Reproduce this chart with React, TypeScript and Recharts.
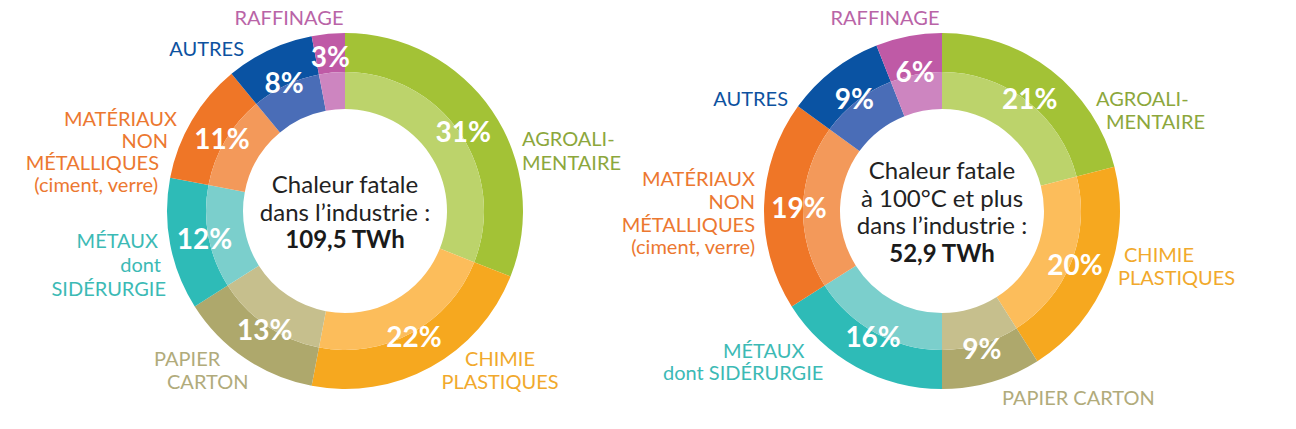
import React from "react";
import { PieChart, Pie, Cell, Label } from "recharts";

// sectors, clockwise from 12 o'clock
const sectors = [
  "Agroalimentaire",
  "Chimie plastiques",
  "Papier carton",
  "Métaux dont sidérurgie",
  "Matériaux non métalliques",
  "Autres",
  "Raffinage",
];
const allHeat = [31, 22, 13, 12, 11, 8, 3]; // % of 109,5 TWh
const hotHeat = [21, 20, 9, 16, 19, 9, 6]; // % of 52,9 TWh (>= 100°C)

const leftTitle = ["Chaleur fatale", "dans l’industrie :"];
const leftTotal = "109,5 TWh";
const rightTitle = ["Chaleur fatale", "à 100°C et plus", "dans l’industrie :"];
const rightTotal = "52,9 TWh";

const leftNames = [
  ["AGROALI-", "MENTAIRE"],
  ["CHIMIE", "PLASTIQUES"],
  ["PAPIER", "CARTON"],
  ["MÉTAUX", "dont", "SIDÉRURGIE"],
  ["MATÉRIAUX", "NON", "MÉTALLIQUES", "(ciment, verre)"],
  ["AUTRES"],
  ["RAFFINAGE"],
];
const rightNames = [
  ["AGROALI-", "MENTAIRE"],
  ["CHIMIE", "PLASTIQUES"],
  ["PAPIER CARTON"],
  ["MÉTAUX", "dont SIDÉRURGIE"],
  ["MATÉRIAUX", "NON", "MÉTALLIQUES", "(ciment, verre)"],
  ["AUTRES"],
  ["RAFFINAGE"],
];

const dark = ["#a3c236", "#f6a81f", "#aea86c", "#2ebbb7", "#ef7627", "#0a53a3", "#bf5aa6"];
const light = ["#bcd36b", "#fcbd5b", "#c6bf8d", "#7bcfcc", "#f3995a", "#4a6db7", "#cd85c0"];
const textCol = ["#8ca73c", "#f1a92c", "#b1ab7b", "#3cbab5", "#ec7830", "#0d52a0", "#b964a7"];

const FONT = "Lato, 'Noto Sans', sans-serif";
const RAD = Math.PI / 180;

// text anchors for the sector names, relative to the donut centre: [dx, dy, anchor] per line
type Pos = [number, number, "start" | "middle" | "end"];
const leftPos: Pos[][] = [
  [[177, -73, "start"], [177, -49, "start"]],
  [[155, 147, "middle"], [155, 170, "middle"]],
  [[-191, 147, "start"], [-178, 170, "start"]],
  [[-187, 29, "end"], [-184, 53, "end"], [-179, 77, "end"]],
  [[-168, -93, "end"], [-177, -71, "end"], [-186, -49, "end"], [-187, -27, "end"]],
  [[-101, -163, "end"]],
  [[-56, -194, "middle"]],
];
const rightPos: Pos[][] = [
  [[154, -113, "start"], [164, -90, "start"]],
  [[182, 43, "start"], [176, 66, "start"]],
  [[60, 186, "start"]],
  [[-219, 139, "start"], [-279, 161, "start"]],
  [[-187, -33, "end"], [-187, -10, "end"], [-187, 13, "end"], [-187, 35, "end"]],
  [[-154, -113, "end"]],
  [[-57, -194, "middle"]],
];

const makeNameLabel = (names: string[][], pos: Pos[][]) => (p: any) => {
  const lines = names[p.index];
  const spots = pos[p.index];
  return (
    <g key={`n${p.index}`}>
      {lines.map((t, i) => (
        <text
          key={i}
          x={p.cx + spots[i][0]}
          y={p.cy + spots[i][1]}
          textAnchor={spots[i][2]}
          dominantBaseline="central"
          fill={textCol[p.index]}
          fontFamily={FONT}
          fontSize={20}
        >
          {t}
        </text>
      ))}
    </g>
  );
};

const pctLabel = (p: any) => {
  const r = p.value < 5 ? 156 : 143;
  const x = p.cx + r * Math.cos(-p.midAngle * RAD);
  const y = p.cy + r * Math.sin(-p.midAngle * RAD);
  return (
    <text
      key={`p${p.index}`}
      x={x}
      y={y}
      textAnchor="middle"
      dominantBaseline="central"
      fill="#ffffff"
      fontFamily={FONT}
      fontWeight={700}
      fontSize={28}
    >
      {p.value}%
    </text>
  );
};

const centreText = (title: string[], total: string, cx: number, cy: number) => () => {
  const n = title.length + 1;
  const top = cy - ((n - 1) * 27.5) / 2;
  return (
    <g>
      {title.map((t, i) => (
        <text
          key={i}
          x={cx}
          y={top + i * 27.5}
          textAnchor="middle"
          dominantBaseline="central"
          fill="#222222"
          fontFamily={FONT}
          fontSize={24}
        >
          {t}
        </text>
      ))}
      <text
        x={cx}
        y={top + title.length * 27.5}
        textAnchor="middle"
        dominantBaseline="central"
        fill="#1a1a1a"
        fontFamily={FONT}
        fontWeight={700}
        fontSize={24}
      >
        {total}
      </text>
    </g>
  );
};

const leftData = sectors.map((s, i) => ({ name: s, value: allHeat[i] }));
const rightData = sectors.map((s, i) => ({ name: s, value: hotHeat[i] }));

const L = { cx: 345, cy: 211 };
const R = { cx: 942, cy: 211 };

export default function App() {
  return (
    <div style={{ position: "absolute", left: 0, top: 0, background: "#fff" }}>
      <PieChart width={1296} height={429} margin={{ top: 0, right: 0, bottom: 0, left: 0 }}>
        {/* left donut */}
        <Pie
          data={leftData}
          dataKey="value"
          cx={L.cx}
          cy={L.cy}
          innerRadius={139}
          outerRadius={178}
          startAngle={90}
          endAngle={-270}
          stroke="none"
          label={makeNameLabel(leftNames, leftPos)}
          labelLine={false}
          isAnimationActive={false}
        >
          {leftData.map((d, i) => (
            <Cell key={d.name} fill={dark[i]} />
          ))}
        </Pie>
        <Pie
          data={leftData}
          dataKey="value"
          cx={L.cx}
          cy={L.cy}
          innerRadius={102}
          outerRadius={139}
          startAngle={90}
          endAngle={-270}
          stroke="none"
          label={pctLabel}
          labelLine={false}
          isAnimationActive={false}
        >
          {leftData.map((d, i) => (
            <Cell key={d.name} fill={light[i]} />
          ))}
          <Label position="center" content={centreText(leftTitle, leftTotal, L.cx, L.cy)} />
        </Pie>

        {/* right donut */}
        <Pie
          data={rightData}
          dataKey="value"
          cx={R.cx}
          cy={R.cy}
          innerRadius={139}
          outerRadius={178}
          startAngle={90}
          endAngle={-270}
          stroke="none"
          label={makeNameLabel(rightNames, rightPos)}
          labelLine={false}
          isAnimationActive={false}
        >
          {rightData.map((d, i) => (
            <Cell key={d.name} fill={dark[i]} />
          ))}
        </Pie>
        <Pie
          data={rightData}
          dataKey="value"
          cx={R.cx}
          cy={R.cy}
          innerRadius={102}
          outerRadius={139}
          startAngle={90}
          endAngle={-270}
          stroke="none"
          label={pctLabel}
          labelLine={false}
          isAnimationActive={false}
        >
          {rightData.map((d, i) => (
            <Cell key={d.name} fill={light[i]} />
          ))}
          <Label position="center" content={centreText(rightTitle, rightTotal, R.cx, R.cy)} />
        </Pie>
      </PieChart>
    </div>
  );
}
